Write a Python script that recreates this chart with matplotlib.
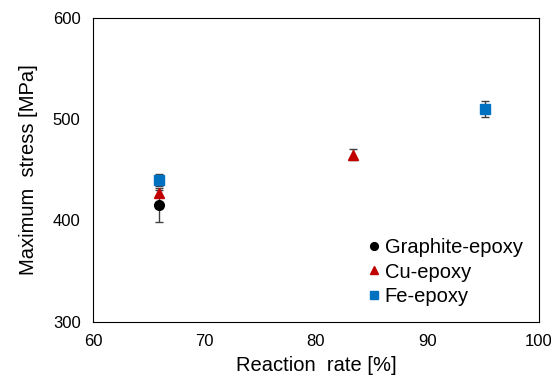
import matplotlib.pyplot as plt

plt.rcParams['font.family'] = ['Liberation Sans', 'DejaVu Sans']

# data
graphite_x = [65.9]
graphite_y = [415]
graphite_err = [17]

cu_x = [65.9, 83.3]
cu_y = [427, 465]
cu_err = [3, 5]

fe_x = [65.9, 95.2]
fe_y = [440, 510]
fe_err = [6, 8]

fig = plt.figure(figsize=(5.51, 3.78), dpi=100)
ax = fig.add_axes([0.169, 0.149, 0.809, 0.804])

series = [
    (graphite_x, graphite_y, graphite_err, 'o', 'black', 'Graphite-epoxy'),
    (cu_x, cu_y, cu_err, '^', '#c00000', 'Cu-epoxy'),
    (fe_x, fe_y, fe_err, 's', '#0070c0', 'Fe-epoxy'),
]
for x, y, err, m, c, lab in series:
    ax.errorbar(x, y, yerr=err, fmt='none', ecolor='#404040', elinewidth=1, capsize=3)
for x, y, err, m, c, lab in series:
    ax.plot(x, y, m, color=c, markersize=7, linestyle='none', label=lab)

ax.set_xlim(60, 100)
ax.set_ylim(300, 600)
ax.set_xticks([60, 70, 80, 90, 100])
ax.set_yticks([300, 400, 500, 600])
ax.tick_params(length=0, labelsize=12, pad=9)
ax.set_xlabel('Reaction  rate [%]', fontsize=14.5, labelpad=5)
ax.set_ylabel('Maximum  stress [MPa]', fontsize=14.5, labelpad=11)

leg = ax.legend(loc='lower right', frameon=False, fontsize=14.5, handletextpad=0.05,
                handlelength=1.0, borderaxespad=0.4, labelspacing=0.25, markerscale=0.8)

fig.savefig('out.png', dpi=100)
